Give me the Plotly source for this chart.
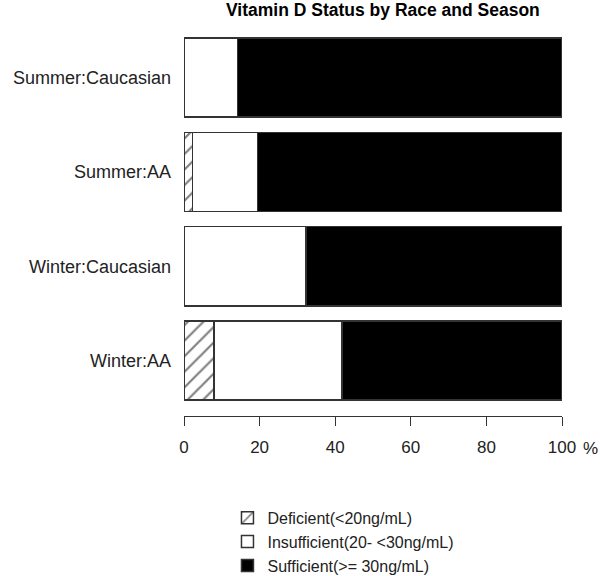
import plotly.graph_objects as go

groups = ["Winter:AA", "Winter:Caucasian", "Summer:AA", "Summer:Caucasian"]
deficient = [7.9, 0.0, 2.3, 0.0]
insufficient = [33.9, 32.3, 17.1, 14.2]
sufficient = [58.2, 67.7, 80.6, 85.8]
x_ticks = [0, 20, 40, 60, 80, 100]

pos = list(range(len(groups)))
edge = dict(color="#333333", width=1.5)
txt = dict(family="Liberation Sans, Arial", size=18, color="#222222")
small = dict(family="Liberation Sans, Arial", size=17, color="#222222")

fig = go.Figure()
fig.add_trace(go.Bar(
    y=pos, x=deficient, orientation="h", name="Deficient(<20ng/mL)",
    marker=dict(color="white", line=edge,
                pattern=dict(shape="/", fgcolor="black", bgcolor="white", size=11, solidity=0.2)),
))
fig.add_trace(go.Bar(
    y=pos, x=insufficient, orientation="h", name="Insufficient(20- <30ng/mL)",
    marker=dict(color="white", line=edge),
))
fig.add_trace(go.Bar(
    y=pos, x=sufficient, orientation="h", name="Sufficient(>= 30ng/mL)",
    marker=dict(color="black", line=edge),
))

fig.update_layout(
    width=600, height=576,
    barmode="stack", bargap=0.16,
    margin=dict(l=184, r=38, t=30, b=160, autoexpand=False),
    plot_bgcolor="white", paper_bgcolor="white",
    font=txt,
    xaxis=dict(range=[0, 100], tickvals=x_ticks, showline=True, linecolor="#333333",
               linewidth=1.2, ticks="outside", ticklen=9, tickcolor="#333333",
               tickfont=small, ticklabelstandoff=6, showgrid=False, zeroline=False,
               automargin=False),
    yaxis=dict(range=[-0.588, 3.504], tickvals=pos, ticktext=groups, showgrid=False,
               zeroline=False, showline=False, ticks="", ticklabelstandoff=12,
               automargin=False),
    legend=dict(x=0.115, y=-0.22, xanchor="left", yanchor="top", traceorder="normal",
                font=dict(family="Liberation Sans, Arial", size=16, color="#222222"),
                itemwidth=30, tracegroupgap=0),
    showlegend=True,
)
fig.add_annotation(text="<b>Vitamin D Status by Race and Season</b>", xref="paper", yref="paper",
                   x=(383 - 184) / 378, y=1.0, xanchor="center", yanchor="middle", yshift=20,
                   showarrow=False,
                   font=dict(family="Liberation Sans, Arial", size=17.5, color="black"))
fig.add_annotation(text="%", xref="paper", yref="paper", x=(590 - 184) / 378, y=0,
                   xanchor="center", yanchor="middle", yshift=-32, showarrow=False, font=small)

fig.write_html("out.html", config={"displayModeBar": False},
               post_script="document.body.style.margin='0px';")
